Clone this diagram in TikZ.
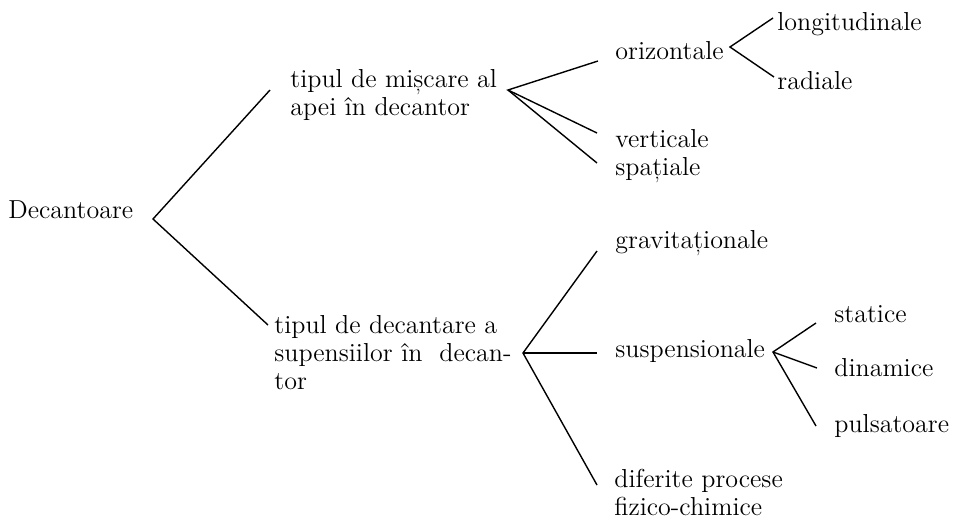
\documentclass[tikz,border=0pt]{standalone}
\usepackage{fontspec}
% several lines set flush left, baseline on the first line
\newcommand{\textlines}[1]{\begin{tabular}[t]{@{}l@{}}#1\end{tabular}}
\begin{document}
\begin{tikzpicture}[x=0.5pt,y=-0.5pt,
  lbl/.style={anchor=base west, inner sep=0pt, font=\fontsize{13}{14}\selectfont},
  branch/.style={line width=0.7pt, line join=miter}]
\useasboundingbox (0,0) rectangle (954,520);

% root
\node[lbl] (root) at (8,218) {Decantoare};
\coordinate (rootJ) at (153,219);

% first level
\node[lbl] (miscare) at (290,87) {\textlines{tipul de mișcare al\\apei în decantor}};
\coordinate (miscareIn) at (270,90);
\coordinate (miscareJ) at (508,90);

\node[lbl] (decantare) at (274,333) {\textlines{tipul de decantare a\\supensiilor în \ decan-\\tor}};
\coordinate (decantareIn) at (268,325);
\coordinate (decantareJ) at (523,353);

% leaves of the water-motion branch
\node[lbl] (oriz) at (615,59) {orizontale};
\coordinate (orizIn) at (598,61);
\coordinate (orizJ) at (730,47);
\node[lbl] (longit) at (777,30) {longitudinale};
\coordinate (longitIn) at (773,18);
\node[lbl] (radiale) at (777,89) {radiale};
\coordinate (radialeIn) at (774,77);
\node[lbl] (vert) at (615,147) {verticale};
\coordinate (vertIn) at (597,133);
\node[lbl] (spatiale) at (615,175.5) {spațiale};
\coordinate (spatialeIn) at (597,163);

% leaves of the settling branch
\node[lbl] (grav) at (615,248) {gravitaționale};
\coordinate (gravIn) at (597,251);
\node[lbl] (susp) at (615,357) {suspensionale};
\coordinate (suspIn) at (597,353);
\coordinate (suspJ) at (773,352);
\node[lbl] (statice) at (834,322) {statice};
\coordinate (staticeIn) at (816,323);
\node[lbl] (dinamice) at (834,376) {dinamice};
\coordinate (dinamiceIn) at (817,368);
\node[lbl] (pulsat) at (834,432) {pulsatoare};
\coordinate (pulsatIn) at (816,426);
\node[lbl] (fizchim) at (614,487) {\textlines{diferite procese\\fizico-chimice}};
\coordinate (fizchimIn) at (597,485);

% connectors
\draw[branch] (miscareIn) -- (rootJ) -- (decantareIn);
\draw[branch] (orizIn) -- (miscareJ) -- (vertIn);
\draw[branch] (miscareJ) -- (spatialeIn);
\draw[branch] (longitIn) -- (orizJ) -- (radialeIn);
\draw[branch] (gravIn) -- (decantareJ) -- (fizchimIn);
\draw[branch] (decantareJ) -- (suspIn);
\draw[branch] (staticeIn) -- (suspJ) -- (pulsatIn);
\draw[branch] (suspJ) -- (dinamiceIn);
\end{tikzpicture}
\end{document}
